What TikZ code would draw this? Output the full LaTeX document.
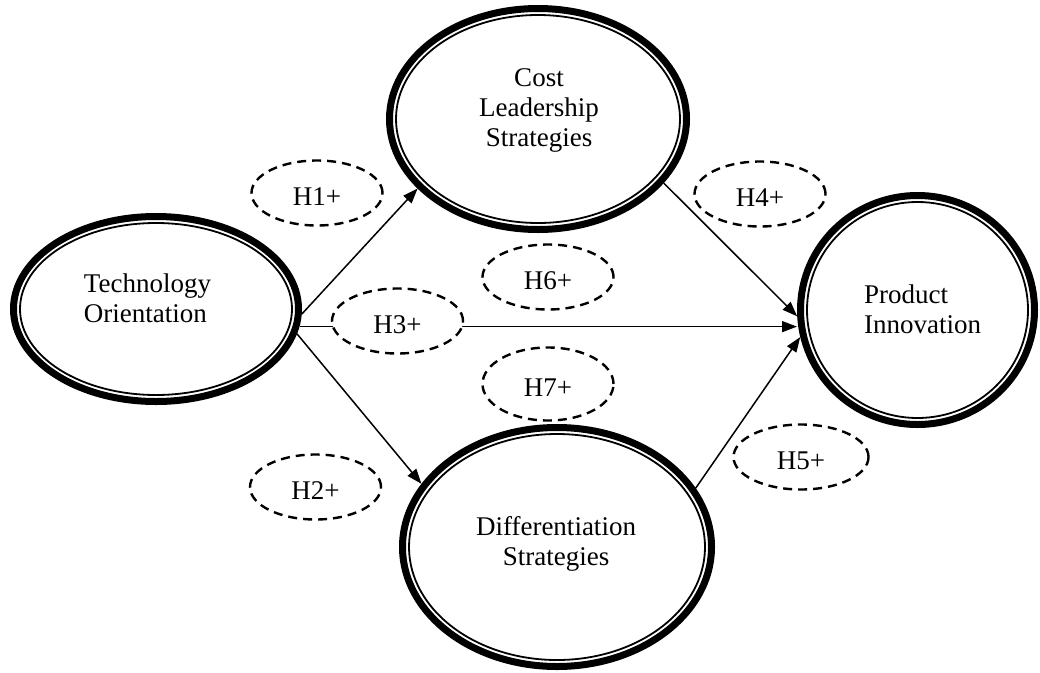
\documentclass[tikz,border=0pt]{standalone}
\usepackage{fontspec}
\setmainfont{Liberation Serif}
\usetikzlibrary{shapes.geometric,arrows.meta}
\begin{document}
\begin{tikzpicture}[x=1pt,y=-1pt,
  construct/.style={ellipse, draw, line width=7pt, inner sep=0pt},
  innerring/.style={line width=1.8pt},
  hyp/.style={ellipse, draw, fill=white, line width=2.4pt, dash pattern=on 9pt off 6pt,
              inner sep=0pt, text height=25pt, text depth=0pt,
              minimum width=131pt, minimum height=65pt,
              font=\fontsize{27}{30}\selectfont},
  lbl/.style={font=\fontsize{27}{30}\selectfont, inner sep=0pt},
  link/.style={line width=1.5pt, -{Triangle[length=15pt,width=11pt]}}]
\useasboundingbox (0,0) rectangle (1040,672);

% constructs
\node[construct, minimum width=285pt, minimum height=185pt] (TO) at (156,309) {};
\node[construct, minimum width=297pt, minimum height=221pt] (CL) at (538,119) {};
\node[construct, minimum width=309pt, minimum height=239pt] (DS) at (557,547) {};
\node[construct, minimum width=234pt, minimum height=229pt] (PI) at (917.5,310) {};

\draw[innerring] (TO.center) ellipse [x radius=136pt, y radius=86pt];
\draw[innerring] (CL.center) ellipse [x radius=142pt, y radius=104pt];
\draw[innerring] (DS.center) ellipse [x radius=148pt, y radius=113pt];
\draw[innerring] (PI.center) ellipse [x radius=110.5pt, y radius=108pt];

\node[lbl, align=left]   (TOt) at (147.5,297.8) {Technology\\Orientation};
\node[lbl, align=center] (CLt) at (539,110.3) {Cost\\Leadership\\Strategies};
\node[lbl, align=center] (DSt) at (556,543.8) {Differentiation\\Strategies};
\node[lbl, align=left]   (PIt) at (922.5,308.8) {Product\\Innovation};

% paths
\draw[link] (TO.-2) -- (CL.210);
\draw[link] (TO.-10.5) -- (DS.155);
\draw[link] (TO.-7.6) -- (TO.-7.6 -| PI.west);
\draw[link] (CL.-27.8) -- (PI.183.3);
\draw[link] (DS.23) -- (PI.193);

% hypotheses
\node[hyp] (H1) at (317,193) {H1+};
\node[hyp] (H2) at (315.5,487) {H2+};
\node[hyp] (H3) at (397.5,321) {H3+};
\node[hyp] (H4) at (760,194) {H4+};
\node[hyp, minimum width=135pt] (H5) at (801,457) {H5+};
\node[hyp] (H6) at (548,277) {H6+};
\node[hyp, minimum height=73pt] (H7) at (548,384) {H7+};
\end{tikzpicture}
\end{document}
